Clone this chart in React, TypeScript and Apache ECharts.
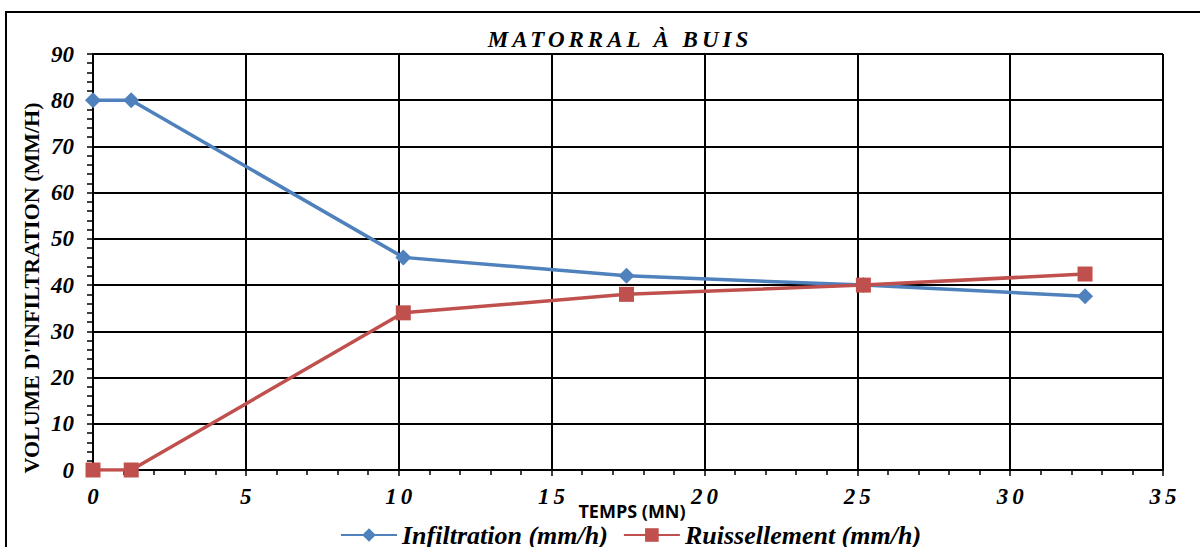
import React, { useEffect, useRef } from "react";
import * as echarts from "echarts";

const titleText = "MATORRAL À BUIS";
const xAxisName = "TEMPS (MN)";
const yAxisName = "VOLUME D'INFILTRATION (MM/H)";
const seriesNames = ["Infiltration (mm/h)", "Ruissellement (mm/h)"];
const times = [0, 1.25, 10.15, 17.45, 25.2, 32.45];
const infiltration = [80, 80, 46, 42, 40, 37.6];
const ruissellement = [0, 0, 34, 38, 40, 42.4];

const SERIF = "'Liberation Serif', 'Times New Roman', serif";

export default function App() {
  const ref = useRef<HTMLDivElement>(null);
  useEffect(() => {
    if (!ref.current) return;
    const chart = echarts.init(ref.current, null, { renderer: "svg" });
    const option: any = {
      animation: false,
      backgroundColor: "#ffffff",
      title: {
        text: titleText,
        left: 615,
        textAlign: "center",
        top: 23,
        textStyle: {
          fontFamily: SERIF,
          fontStyle: "italic",
          fontWeight: "bold",
          fontSize: 23,
          color: "#000",
        },
      },
      grid: { left: 93, right: 37, top: 54, bottom: 77 },
      legend: {
        left: 340,
        top: 522,
        padding: 0,
        itemWidth: 56,
        itemHeight: 17,
        itemGap: 15,
        textStyle: {
          fontFamily: SERIF,
          fontStyle: "italic",
          fontWeight: "bold",
          fontSize: 26,
          color: "#000",
        },
        data: seriesNames,
      },
      xAxis: {
        type: "value",
        min: 0,
        max: 35,
        interval: 5,
        axisLine: { show: true, lineStyle: { color: "#000", width: 2 } },
        axisTick: { show: true, length: 6, lineStyle: { color: "#000", width: 1.5 } },
        minorTick: { show: true, splitNumber: 5, length: 5, lineStyle: { color: "#000", width: 1.5 } },
        splitLine: { show: true, lineStyle: { color: "#000", width: 2 } },
        axisLabel: {
          margin: 15,
          fontFamily: SERIF,
          fontStyle: "italic",
          fontWeight: "bold",
          fontSize: 23,
          color: "#000",
        },
      },
      yAxis: {
        type: "value",
        min: 0,
        max: 90,
        interval: 10,
        axisLine: { show: true, lineStyle: { color: "#000", width: 2 } },
        axisTick: { show: true, length: 6, lineStyle: { color: "#000", width: 1.5 } },
        minorTick: { show: true, splitNumber: 5, length: 6, lineStyle: { color: "#000", width: 1.5 } },
        splitLine: { show: true, lineStyle: { color: "#000", width: 2 } },
        axisLabel: {
          margin: 19,
          fontFamily: SERIF,
          fontStyle: "italic",
          fontWeight: "bold",
          fontSize: 23,
          color: "#000",
        },
      },
      graphic: [
        {
          type: "rect",
          silent: true,
          shape: { x: 6, y: 12, width: 1300, height: 700 },
          style: { fill: "none", stroke: "#000", lineWidth: 2 },
          z: 0,
        },
        {
          type: "text",
          x: 31,
          y: 288,
          rotation: Math.PI / 2,
          style: {
            text: yAxisName,
            fontFamily: SERIF,
            fontWeight: "bold",
            fontSize: 22,
            fill: "#000",
            align: "center",
            verticalAlign: "middle",
          },
        },
        {
          type: "text",
          x: 632,
          y: 511,
          style: {
            text: xAxisName,
            fontFamily: "'Open Sans', 'Noto Sans', sans-serif",
            fontWeight: "bold",
            fontSize: 18,
            fill: "#000",
            align: "center",
            verticalAlign: "middle",
          },
        },
      ],
      series: [
        {
          name: seriesNames[0],
          type: "line",
          data: times.map((t, i) => [t, infiltration[i]]),
          symbol: "diamond",
          symbolSize: 16,
          lineStyle: { color: "#4F81BD", width: 3.5 },
          itemStyle: { color: "#4F81BD" },
          z: 3,
        },
        {
          name: seriesNames[1],
          type: "line",
          data: times.map((t, i) => [t, ruissellement[i]]),
          symbol: "rect",
          symbolSize: 15,
          lineStyle: { color: "#C0504D", width: 3.5 },
          itemStyle: { color: "#C0504D" },
          z: 4,
        },
      ],
    };
    chart.setOption(option);
    const spaceOut = () => {
      if (!ref.current) return;
      const texts = ref.current.querySelectorAll("text");
      texts.forEach((t) => {
        const s = (t.textContent || "").trim();
        const el = t as any;
        if (s === titleText) {
          el.style.letterSpacing = "4px";
        } else if (/^\d\d$/.test(s) && t.getAttribute("text-anchor") === "middle") {
          el.style.letterSpacing = "4px";
          el.setAttribute("dx", "2");
        }
      });
    };
    spaceOut();
    return () => chart.dispose();
  }, []);
  return (
    <div
      ref={ref}
      style={{ position: "fixed", left: 0, top: 0, width: 1200, height: 547 }}
    />
  );
}
